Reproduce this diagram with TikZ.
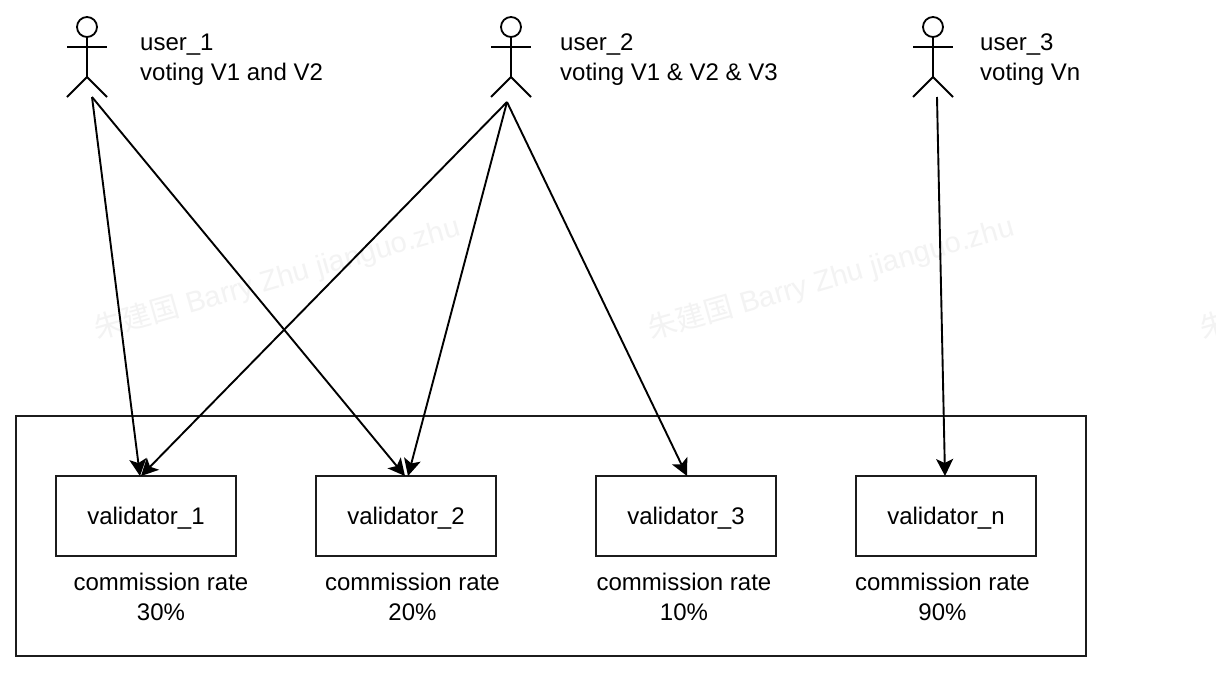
\documentclass[tikz,border=0pt]{standalone}
\usepackage{fontspec}
\setmainfont{Liberation Sans}
\newfontfamily\cjkwm{Noto Sans CJK SC}
\usetikzlibrary{arrows.meta}
\definecolor{wmgray}{HTML}{F3F3F3}
\definecolor{boxline}{HTML}{1C1C1C}
\newcommand{\vlabel}[1]{\raisebox{-8pt}[0pt][0pt]{#1}}
\tikzset{
  x=1pt,y=-1pt,
  boxstroke/.style={draw=boxline,line width=2pt},
  vbox/.style={boxstroke,minimum width=180pt,minimum height=80pt,inner sep=0pt,font=\fontsize{24}{30}\selectfont},
  lbl/.style={inner sep=0pt,font=\fontsize{24}{30}\selectfont,align=center},
  usr/.style={inner sep=0pt,font=\fontsize{24}{30}\selectfont,align=left,anchor=north west},
  actorline/.style={line width=1.8pt,black},
  vote/.style={line width=1.9pt,-{Stealth[length=17pt,width=17pt,inset=4pt]},shorten <=0pt},
  wm/.style={inner sep=0pt,text=wmgray,rotate=16,font=\fontsize{29}{32}\selectfont,anchor=west},
}
\newcommand{\actorfig}[2]{%
  \draw[actorline] (#1,#2) circle (10pt);
  \draw[actorline] (#1,#2+10) -- (#1,#2+50);
  \draw[actorline] (#1-20,#2+20) -- (#1+20,#2+20);
  \draw[actorline] (#1-20,#2+70) -- (#1,#2+50) -- (#1+20,#2+70);
}
\begin{document}
\begin{tikzpicture}
\useasboundingbox (0,0) rectangle (1216,675);
\fill[white] (0,0) rectangle (1216,675);
\node[wm] (wma) at (95,331) {{\cjkwm 朱建国} Barry Zhu jianguo.zhu};
\node[wm] (wmb) at (649,331) {{\cjkwm 朱建国} Barry Zhu jianguo.zhu};
\node[wm] (wmc) at (1201,331) {{\cjkwm 朱建国} Barry Zhu jianguo.zhu};
\actorfig{87}{27}
\actorfig{511}{27}
\actorfig{933}{27}
\node[usr] (ua) at (140,34) {user\_1\\voting V1 and V2};
\node[usr] (ub) at (560,34) {user\_2\\voting V1 \& V2 \& V3};
\node[usr] (uc) at (980,34) {user\_3\\voting Vn};
\node[boxstroke,minimum width=1070pt,minimum height=240pt,inner sep=0pt] (frame) at (551,536) {};
\node[vbox] (v1) at (146,516) {\vlabel{validator\_1}};
\node[vbox] (v2) at (406,516) {\vlabel{validator\_2}};
\node[vbox] (v3) at (686,516) {\vlabel{validator\_3}};
\node[vbox] (vn) at (946,516) {\vlabel{validator\_n}};
\node[lbl] (r1) at (161,597) {commission rate\\30\%};
\node[lbl] (r2) at (412.5,597) {commission rate\\20\%};
\node[lbl] (r3) at (684,597) {commission rate\\10\%};
\node[lbl] (rn) at (942.5,597) {commission rate\\90\%};
\coordinate (s1) at (92,97);
\coordinate (s2) at (507,102);
\coordinate (s3) at (937,97);
\coordinate (t1a) at (140,476);
\coordinate (t1b) at (141,476);
\coordinate (t2a) at (405,476);
\coordinate (t2b) at (408,476);
\coordinate (t3) at (687,476);
\coordinate (tn) at (945,476);
\draw[vote] (s1) -- (t1a);
\draw[vote] (s1) -- (t2a);
\draw[vote] (s2) -- (t1b);
\draw[vote] (s2) -- (t2b);
\draw[vote] (s2) -- (t3);
\draw[vote] (s3) -- (tn);
\end{tikzpicture}
\end{document}
